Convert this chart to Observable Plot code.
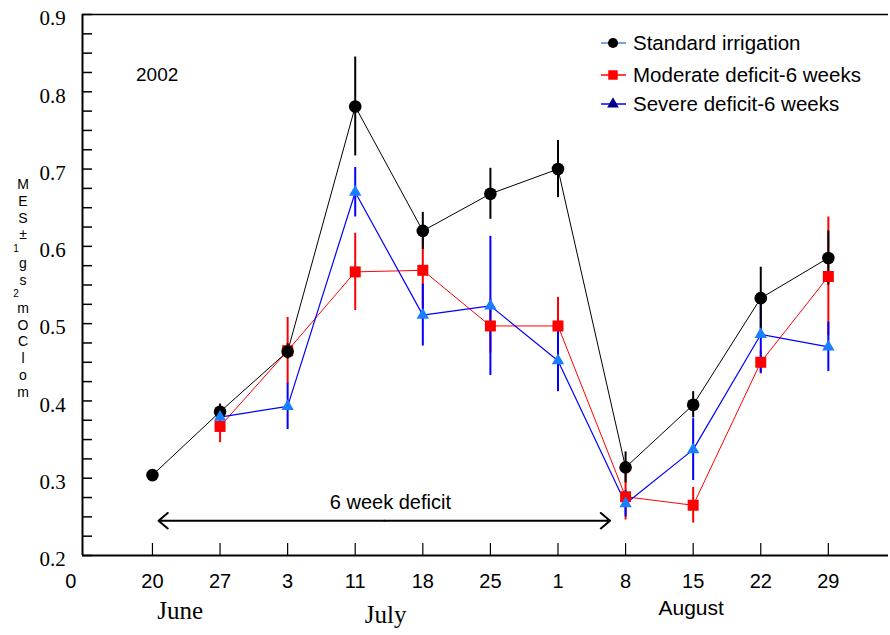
<!DOCTYPE html>
<html>
<head>
<meta charset="utf-8">
<script src="https://cdn.jsdelivr.net/npm/d3@7"></script>
<script src="https://cdn.jsdelivr.net/npm/@observablehq/plot@0.6"></script>
<style>
  html, body { margin: 0; padding: 0; background: #fff; }
  #chart { width: 890px; height: 635px; }
</style>
</head>
<body>
<div id="chart"></div>
<script>
// ---- data ----
const dates = ["20", "27", "3", "11", "18", "25", "1", "8", "15", "22", "29"];
const months = ["June", "July", "August"];
const standard   = [0.304, 0.386, 0.464, 0.781, 0.620, 0.668, 0.700, 0.314, 0.395, 0.533, 0.585];
const standardSE = [0.000, 0.010, 0.010, 0.064, 0.024, 0.033, 0.037, 0.020, 0.017, 0.040, 0.035];
const moderate   = [null, 0.367, 0.465, 0.567, 0.569, 0.497, 0.497, 0.276, 0.265, 0.450, 0.561];
const moderateSE = [null, 0.021, 0.043, 0.050, 0.050, 0.035, 0.037, 0.030, 0.023, 0.015, 0.077];
const severe     = [null, 0.379, 0.393, 0.670, 0.511, 0.523, 0.452, 0.267, 0.337, 0.486, 0.470];
const severeSE   = [null, 0.015, 0.030, 0.032, 0.040, 0.090, 0.040, 0.017, 0.040, 0.050, 0.032];
const yTicks = [0.2, 0.3, 0.4, 0.5, 0.6, 0.7, 0.8, 0.9];
const seriesNames = ["Standard irrigation", "Moderate deficit-6 weeks", "Severe deficit-6 weeks"];
const yearLabel = "2002";
const deficitLabel = "6 week deficit";
const deficitSpan = [1.09, 7.77];   // in week-index units
const yLabelChars = ["M", "E", "S", "±", "1", "g", "s", "2", "m", "O", "C", "l", "o", "m"];

// ---- layout ----
const W = 890, H = 635;
const mL = 82, mR = 2, mT = 14, mB = 80;
const xDomain = [-0.035, 11.89];
const yDomain = [0.2, 0.9];
const pxPerX = (W - mL - mR) / (xDomain[1] - xDomain[0]);
const pxPerY = (H - mT - mB) / (yDomain[1] - yDomain[0]);
const xTickLen = 12 / pxPerY;
const yTickLen = 10 / pxPerX;

const rows = dates.map((d, k) => ({
  i: k + 1, date: d,
  standard: standard[k], standardSE: standardSE[k],
  moderate: moderate[k], moderateSE: moderateSE[k],
  severe: severe[k], severeSE: severeSE[k]
}));
const rowsS = rows.filter(r => r.standard != null);
const rowsM = rows.filter(r => r.moderate != null);
const rowsV = rows.filter(r => r.severe != null);

const minorY = d3.range(0.225, 0.9, 0.025).filter(v => Math.abs(v * 10 - Math.round(v * 10)) > 0.01);
const xIdx = rows.map(r => r.i);
const serif = "'Liberation Serif', 'Times New Roman', serif";
const sans = "'Liberation Sans', Arial, Helvetica, sans-serif";
const midDeficit = (deficitSpan[0] + deficitSpan[1]) / 2;
const arrowY = 0.245;

const plot = Plot.plot({
  width: W, height: H,
  marginLeft: mL, marginRight: mR, marginTop: mT, marginBottom: mB,
  x: {domain: xDomain, axis: null},
  y: {domain: yDomain, axis: null},
  style: {background: "white", fontFamily: sans, overflow: "visible"},
  marks: [
    // frame (top, left, bottom)
    Plot.ruleY([yDomain[1]], {stroke: "black", strokeWidth: 1.5}),
    Plot.ruleY([yDomain[0]], {stroke: "black", strokeWidth: 2}),
    Plot.ruleX([xDomain[0]], {stroke: "black", strokeWidth: 2}),
    // y ticks (inward)
    Plot.ruleY(yTicks, {y: d => d, x1: xDomain[0], x2: xDomain[0] + yTickLen, stroke: "black", strokeWidth: 1.5}),
    Plot.ruleY(minorY, {y: d => d, x1: xDomain[0], x2: xDomain[0] + yTickLen, stroke: "black", strokeWidth: 1.5}),
    Plot.text(yTicks, {y: d => d, frameAnchor: "left", dx: -43, dy: 4, text: d => d.toFixed(1),
      fontFamily: serif, fontSize: 21, fill: "black"}),
    // x ticks (inward)
    Plot.ruleX(xIdx, {x: d => d, y1: yDomain[0], y2: yDomain[0] + xTickLen, stroke: "black", strokeWidth: 1.2}),
    Plot.text(rows, {x: "i", frameAnchor: "bottom", dy: 32, text: "date", fontSize: 20, fill: "black"}),
    Plot.text(["0"], {x: 0, frameAnchor: "bottom", dy: 32, dx: -14, text: d => d, fontSize: 20, fill: "black"}),
    // month labels
    Plot.text([months[0]], {x: 1.41, frameAnchor: "bottom", dy: 63, text: d => d, fontFamily: serif, fontSize: 25, fill: "black"}),
    Plot.text([months[1]], {x: 4.45, frameAnchor: "bottom", dy: 67, text: d => d, fontFamily: serif, fontSize: 25, fill: "black"}),
    Plot.text([months[2]], {x: 8.97, frameAnchor: "bottom", dy: 59, text: d => d, fontSize: 21, fill: "black"}),
    // error bars
    Plot.ruleX(rowsM, {x: "i", y1: r => r.moderate - r.moderateSE, y2: r => r.moderate + r.moderateSE, stroke: "#ff0000", strokeWidth: 2}),
    Plot.ruleX(rowsV, {x: "i", y1: r => r.severe - r.severeSE, y2: r => r.severe + r.severeSE, stroke: "#0000ff", strokeWidth: 2}),
    Plot.ruleX(rowsS, {x: "i", y1: r => r.standard - r.standardSE, y2: r => r.standard + r.standardSE, stroke: "black", strokeWidth: 2}),
    // lines
    Plot.line(rowsM, {x: "i", y: "moderate", stroke: "#ff0000", strokeWidth: 1}),
    Plot.line(rowsV, {x: "i", y: "severe", stroke: "#0000ff", strokeWidth: 1.2}),
    Plot.line(rowsS, {x: "i", y: "standard", stroke: "black", strokeWidth: 1}),
    // markers
    Plot.dot(rowsM, {x: "i", y: "moderate", symbol: "square", r: 6.2, fill: "#ff0000", stroke: "none"}),
    Plot.dot(rowsS, {x: "i", y: "standard", symbol: "circle", r: 6.3, fill: "black", stroke: "none"}),
    Plot.dot(rowsV, {x: "i", y: "severe", symbol: "triangle", r: 4.6, fill: "#1a7fff", stroke: "none"}),
    // annotations: double-headed arrow drawn as two arrows from the middle
    Plot.arrow([deficitSpan[0], deficitSpan[1]], {x1: midDeficit, x2: d => d, y1: arrowY, y2: arrowY,
      stroke: "black", strokeWidth: 2, headLength: 9, headAngle: 80}),
    Plot.text([deficitLabel], {x: 4.52, y: 0.269, text: d => d, fontSize: 20, fill: "black"}),
    Plot.text([yearLabel], {x: 1.07, y: 0.822, text: d => d, fontSize: 19, fill: "black"})
  ]
});

document.getElementById("chart").appendChild(plot);

// ---- legend ----
const svg = d3.select(plot);
const lg = svg.append("g").attr("font-family", sans).attr("font-size", 20.5).attr("text-anchor", "start");
const legendRows = [
  {y: 43, line: "#4f86c6", sym: "circle", fill: "black"},
  {y: 75, line: "#ff0000", sym: "square", fill: "#ff0000"},
  {y: 104, line: "#0000ff", sym: "triangle", fill: "#00008b"}
];
legendRows.forEach((r, k) => {
  lg.append("line").attr("x1", 601).attr("x2", 626).attr("y1", r.y).attr("y2", r.y)
    .attr("stroke", r.line).attr("stroke-width", 1.5);
  const symType = r.sym === "circle" ? d3.symbolCircle : r.sym === "square" ? d3.symbolSquare : d3.symbolTriangle;
  const size = r.sym === "circle" ? 80 : r.sym === "square" ? 90 : 60;
  lg.append("path").attr("d", d3.symbol(symType, size)()).attr("transform", `translate(613,${r.y})`).attr("fill", r.fill);
  lg.append("text").attr("x", 633).attr("y", r.y).attr("dy", "0.35em").attr("fill", "black")
    .attr("text-anchor", "start").text(seriesNames[k]);
});

// ---- garbled vertical y-axis label: characters stacked upright, without overlap ----
const charSmall = [false, false, false, false, true, false, false, true, false, false, false, false, false, false];
const yLabTop = 176, yLabBottom = 400;
const weights = charSmall.map(s => (s ? 0.7 : 1));
const totalW = d3.sum(weights);
const yl = svg.append("g").attr("font-family", sans).attr("fill", "black").attr("text-anchor", "middle");
let cursor = yLabTop;
yLabelChars.forEach((c, k) => {
  const h = (yLabBottom - yLabTop) * weights[k] / totalW;
  yl.append("text")
    .attr("x", charSmall[k] ? 16 : 23)
    .attr("y", cursor + h / 2)
    .attr("dy", "0.35em")
    .attr("font-size", charSmall[k] ? 10 : 14)
    .text(c);
  cursor += h;
});
</script>
</body>
</html>
